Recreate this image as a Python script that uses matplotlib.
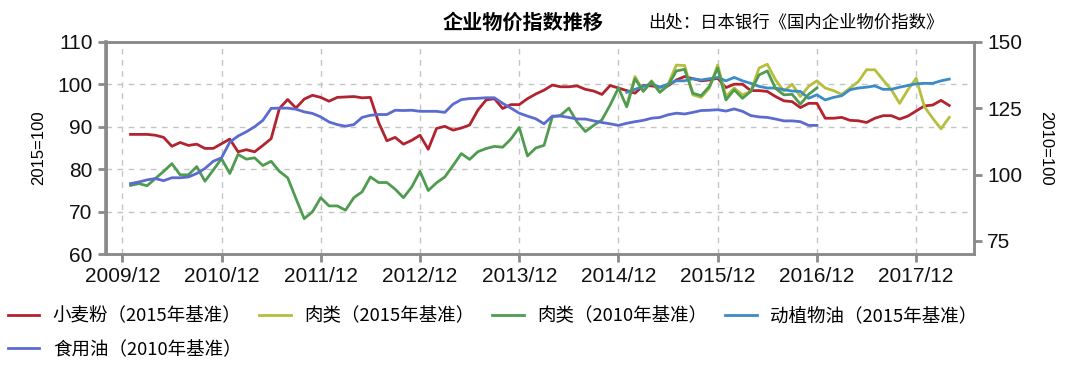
import numpy as np
import matplotlib
matplotlib.use('Agg')
import matplotlib.pyplot as plt

plt.rcParams['font.family'] = ['Noto Sans CJK SC', 'DejaVu Sans']

# month index: 0 = 2009/12, 1 = 2010/01 ...
tick_months = [0, 12, 24, 36, 48, 60, 72, 84, 96]
tick_labels = ['2009/12', '2010/12', '2011/12', '2012/12', '2013/12',
               '2014/12', '2015/12', '2016/12', '2017/12']

# 小麦粉 (2015=100), 2010/01 - 2018/04
flour = [88.2, 88.2, 88.2, 88.0, 87.5, 85.4, 86.3, 85.6, 85.9, 84.9, 84.9, 86.0,
         87.1, 84.1, 84.6, 84.1, 85.6, 87.2, 94.3, 96.4, 94.4, 96.5, 97.4, 96.9,
         96.0, 96.9, 97.0, 97.1, 96.8, 96.9, 91.0, 86.7, 87.5, 85.9, 86.8, 88.0,
         84.7, 89.6, 90.1, 89.2, 89.7, 90.4, 93.9, 96.3, 96.6, 94.3, 95.2, 95.2,
         96.6, 97.7, 98.6, 99.8, 99.4, 99.4, 99.6, 98.8, 98.4, 97.6, 99.7, 99.1,
         98.5, 97.9, 99.7, 99.6, 99.3, 99.6, 101.0, 101.8, 101.3, 100.8, 101.0, 101.4,
         99.2, 100.0, 100.0, 98.5, 98.5, 98.3, 97.1, 96.1, 95.9, 94.5, 95.5, 95.5,
         92.0, 92.0, 92.2, 91.5, 91.4, 91.0, 92.0, 92.6, 92.6, 91.8, 92.5, 93.7,
         94.9, 95.1, 96.2, 95.0]

# 肉类 (2015=100), 2015/01 - 2018/04
meat15 = [95.1, 101.8, 98.4, 100.8, 98.1, 100.0, 104.5, 104.4, 97.5, 96.9, 99.1, 104.5,
          97.1, 99.1, 97.5, 98.3, 103.8, 104.7, 101.0, 98.4, 100.0, 97.1, 99.5, 100.8,
          99.1, 98.5, 97.6, 99.1, 100.6, 103.4, 103.4, 101.0, 98.7, 95.5, 98.7, 101.4,
          94.7, 92.0, 89.5, 92.2]

# 肉类 (2010=100), 2010/01 - 2016/12, right axis
meat10 = [95.9, 96.6, 95.8, 98.5, 101.2, 104.1, 99.9, 99.9, 103.0, 97.5, 101.7, 106.0,
          100.4, 107.6, 105.8, 106.3, 103.4, 105.0, 101.2, 98.8, 91.0, 83.4, 86.0, 91.3,
          88.2, 88.2, 86.6, 91.3, 93.5, 99.1, 97.0, 97.0, 94.5, 91.3, 95.3, 101.2,
          94.0, 96.9, 99.1, 103.4, 107.9, 105.7, 108.6, 109.8, 110.6, 110.3, 113.4, 117.7,
          107.0, 110.0, 111.0, 121.7, 122.3, 125.0, 119.8, 116.2, 118.5, 120.6, 126.2, 132.6,
          125.5, 136.1, 131.3, 135.0, 131.0, 133.5, 139.0, 139.6, 130.6, 129.7, 133.2, 140.1,
          128.1, 131.9, 128.7, 131.3, 137.5, 139.0, 132.4, 130.0, 130.2, 126.5, 130.2, 132.6]

# 动植物油 (2015=100), 2015/01 - 2018/04
oil15 = [98.1, 98.8, 99.5, 100.1, 99.3, 100.0, 100.8, 100.8, 101.3, 101.0, 101.3, 101.6,
         100.8, 101.6, 100.8, 100.2, 99.5, 99.1, 99.1, 98.7, 98.4, 98.3, 96.7, 97.5,
         96.3, 96.9, 97.3, 98.7, 99.1, 99.3, 99.6, 98.8, 98.8, 99.3, 99.7, 100.1,
         100.2, 100.2, 100.8, 101.2]

# 食用油 (2010=100), 2010/01 - 2016/12, right axis
oil10 = [96.6, 97.2, 98.0, 98.5, 97.7, 98.8, 98.8, 99.1, 100.4, 102.3, 105.0, 106.3,
         112.2, 114.5, 116.1, 118.0, 120.4, 124.9, 125.0, 125.0, 124.6, 123.6, 123.0, 121.7,
         119.8, 118.8, 118.2, 118.8, 121.5, 122.3, 122.6, 122.6, 124.2, 124.1, 124.2, 123.8,
         123.8, 123.8, 123.4, 126.5, 128.2, 128.6, 128.7, 128.9, 128.9, 126.8, 125.0, 123.1,
         122.0, 121.0, 119.1, 122.0, 122.0, 121.5, 120.9, 120.9, 120.2, 119.6, 119.1, 118.5,
         119.3, 119.9, 120.4, 121.2, 121.5, 122.5, 123.1, 122.8, 123.4, 124.1, 124.2, 124.4,
         123.9, 124.7, 123.8, 122.2, 121.7, 121.5, 120.9, 120.2, 120.2, 119.9, 118.5, 118.5]

m_flour = np.arange(1, 1 + len(flour))
m_meat15 = np.arange(61, 61 + len(meat15))
m_meat10 = np.arange(1, 1 + len(meat10))
m_oil15 = np.arange(61, 61 + len(oil15))
m_oil10 = np.arange(1, 1 + len(oil10))

spine_c = '#8a8a8a'
grid_c = '#c4c4c4'
num_font = ['Liberation Sans', 'DejaVu Sans']

fig = plt.figure(figsize=(10.8, 3.71), dpi=100)
ax = fig.add_axes([0.0979, 0.3146, 0.804, 0.573])
ax2 = ax.twinx()

l1, = ax.plot(m_flour, flour, color='#b2232f', lw=2.0, label='小麦粉（2015年基准）')
l2, = ax.plot(m_meat15, meat15, color='#b5bf3c', lw=2.0, label='肉类（2015年基准）')
l4, = ax.plot(m_oil15, oil15, color='#3a8bc8', lw=2.0, label='动植物油（2015年基准）')
l3, = ax2.plot(m_meat10, meat10, color='#4f9c50', lw=2.0, label='肉类（2010年基准）')
l5, = ax2.plot(m_oil10, oil10, color='#5b6bcf', lw=2.0, label='食用油（2010年基准）')

ax.set_xlim(-2, 103)
ax.set_ylim(60, 110)
ax2.set_ylim(70, 150)
ax.set_yticks([60, 70, 80, 90, 100, 110])
ax2.set_yticks([75, 100, 125, 150])
ax.set_xticks(tick_months)
ax.set_xticklabels(tick_labels)

ax.grid(True, ls=(0, (4, 4)), color=grid_c, lw=1)
ax.set_axisbelow(True)

for a in (ax, ax2):
    for s in a.spines.values():
        s.set_color(spine_c)
        s.set_linewidth(1.8)
    a.tick_params(colors=spine_c, width=2, length=6, labelcolor='#111111', labelsize=15)
    for lab in a.get_xticklabels() + a.get_yticklabels():
        lab.set_family(num_font)
ax.spines['left'].set_linewidth(2.6)

ax.set_ylabel('2015=100', fontsize=12, family=num_font, labelpad=8)
ax2.set_ylabel('2010=100', fontsize=12, family=num_font, rotation=270, labelpad=22)

fig.text(0.484, 0.94, '企业物价指数推移', fontsize=14.5, weight='bold', ha='center', va='center')
fig.text(0.6, 0.94, '出处：日本银行《国内企业物价指数》', fontsize=12.5, ha='left', va='center')

# legend fills column by column, so order for row-wise reading
handles = [l1, l5, l2, l3, l4]
fig.legend(handles, [h.get_label() for h in handles], loc='upper left',
           bbox_to_anchor=(0.007, 0.172), ncol=4, frameon=False, fontsize=13.3,
           handlelength=1.7, handletextpad=0.75, columnspacing=0.95,
           labelspacing=0.85, borderpad=0, borderaxespad=0)

fig.savefig('out.png', dpi=100)
